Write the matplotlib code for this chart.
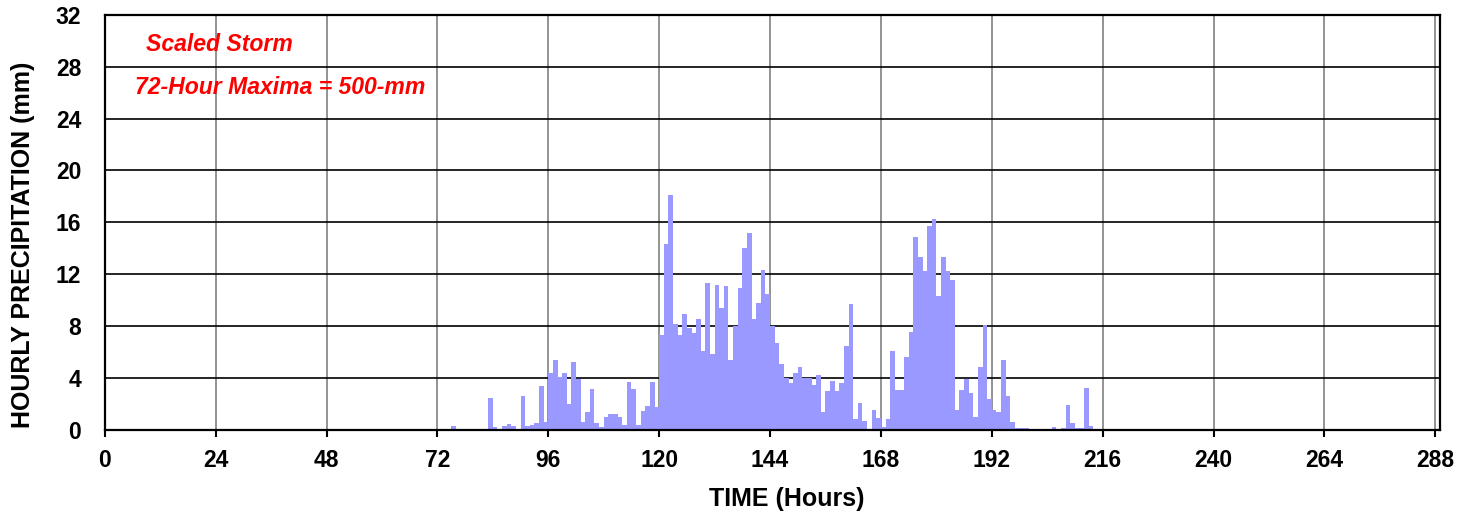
import numpy as np
import matplotlib
matplotlib.use("Agg")
import matplotlib.pyplot as plt

plt.rcParams['font.family'] = ['Liberation Sans', 'DejaVu Sans']

# hourly precipitation (mm), one value per hour starting at hour 75
first_hour = 75
precip = [
    0.3, 0, 0, 0, 0, 0, 0, 0,                      # 75-82
    2.42, 0.18, 0, 0.3, 0.43, 0.25, 0, 2.55,       # 83-90
    0.25, 0.38, 0.48, 3.39, 0.56,                  # 91-95
    4.39, 5.36, 4.05, 4.39, 1.96, 5.25, 3.88, 0.61,  # 96-103
    1.33, 3.16, 0.48, 0.18, 0.94, 1.2, 1.2, 0.94,    # 104-111
    0.36, 3.67, 3.16, 0.36, 1.45, 1.8, 3.67, 1.7,    # 112-119
    7.27, 14.3, 18.1, 8.18, 7.27, 8.9, 7.8, 7.45,    # 120-127
    8.57, 6.05, 11.3, 5.8, 11.17, 9.35, 11.1, 5.4,   # 128-135
    8.0, 10.9, 14.0, 15.2, 8.57, 9.8, 12.3, 10.5,    # 136-143
    8.0, 6.7, 5.06, 3.95, 3.6, 4.33, 4.8, 4.0,       # 144-151
    4.0, 3.47, 4.2, 1.35, 2.95, 3.73, 2.95, 3.6,     # 152-159
    6.45, 9.7, 0.85, 2.07, 0.62, 0, 1.47, 0.92,      # 160-167
    0.2, 0.83, 6.08, 3.08, 3.08, 5.57, 7.56, 14.9,   # 168-175
    13.3, 12.2, 15.7, 16.25, 10.3, 13.3, 12.2, 11.55,  # 176-183
    1.47, 3.05, 3.93, 2.82, 0.96, 4.8, 8.06, 2.33,   # 184-191
    1.5, 1.34, 5.35, 2.56, 0.57, 0.08, 0.1, 0.1,     # 192-199
    0, 0, 0, 0, 0, 0.23, 0, 0.08,                    # 200-207
    1.91, 0.48, 0.1, 0.1, 3.19, 0.25,                # 208-213
]
hours = np.arange(first_hour, first_hour + len(precip))

xticks = list(range(0, 289, 24))
yticks = list(range(0, 33, 4))

fig = plt.figure(figsize=(14.61, 5.16), dpi=100)
ax = fig.add_axes([0.0717, 0.1676, 0.9139, 0.8033])

ax.bar(hours, precip, width=1.0, align='edge', color='#9999ff', edgecolor='none', zorder=3)

ax.set_xlim(0, 289)
ax.set_ylim(0, 32)
ax.set_xticks(xticks)
ax.set_yticks(yticks)

ax.set_axisbelow(True)
ax.xaxis.grid(True, color='#808080', linewidth=1.2)
ax.yaxis.grid(True, color='black', linewidth=1.2)

for s in ax.spines.values():
    s.set_linewidth(1.6)
    s.set_color('black')
    s.set_zorder(4)

ax.tick_params(axis='x', direction='out', length=5, width=1.5, pad=9, labelsize=16.5)
ax.tick_params(axis='y', length=0, pad=17, labelsize=16.5)
for lab in ax.get_xticklabels() + ax.get_yticklabels():
    lab.set_fontweight('bold')

ax.set_xlabel('TIME (Hours)', fontsize=18, fontweight='bold')
ax.set_ylabel('HOURLY PRECIPITATION (mm)', fontsize=18, fontweight='bold')
ax.xaxis.set_label_coords(0.5107, -0.138)
ax.yaxis.set_label_coords(-0.052, 0.445)

ax.text(8.9, 29.7, 'Scaled Storm', color='red', fontsize=16.6, fontweight='bold',
        fontstyle='italic', va='center', ha='left')
ax.text(6.5, 26.4, '72-Hour Maxima = 500-mm', color='red', fontsize=16.6, fontweight='bold',
        fontstyle='italic', va='center', ha='left')

fig.savefig('out.png', dpi=100)
